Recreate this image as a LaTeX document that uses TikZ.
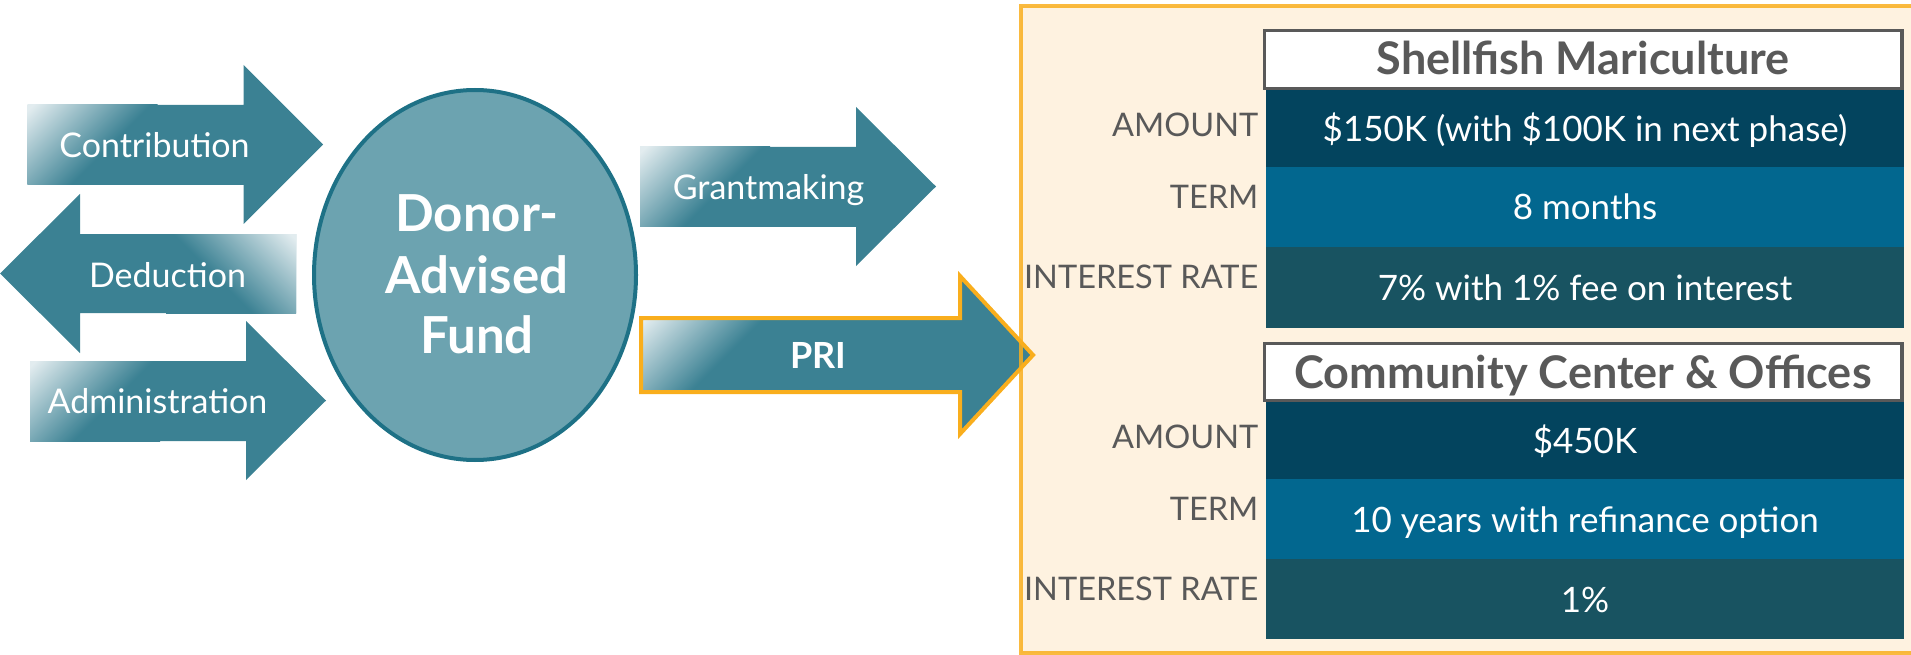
\documentclass[tikz,border=0pt]{standalone}
\usepackage{fontspec}
\setmainfont{Lato}
\usetikzlibrary{shapes.geometric}
\definecolor{arrowc}{HTML}{3B8193}
\definecolor{glow}{HTML}{E2ECEF}
\definecolor{ellfill}{HTML}{6CA3B0}
\definecolor{elldraw}{HTML}{1E7186}
\definecolor{orng}{HTML}{F9AE1D}
\definecolor{cream}{HTML}{FEF2E0}
\definecolor{rowA}{HTML}{03445E}
\definecolor{rowB}{HTML}{02678F}
\definecolor{rowC}{HTML}{185361}
\definecolor{hdgray}{HTML}{595959}
\pgfdeclarehorizontalshading{cornerfade}{100bp}{color(0bp)=(glow); color(16bp)=(glow); color(48bp)=(arrowc); color(100bp)=(arrowc)}
% right-pointing block arrow: x0, ytop, ybot, xhead, yheadtop, yheadbot, xtip
\newcommand\myrarrow[7]{%
  \fill[arrowc] (#1,#2) -- (#4,#2) -- (#4,#5) -- (#7,{(#5+#6)/2}) -- (#4,#6) -- (#4,#3) -- (#1,#3) -- cycle;
  \begin{scope}
    \clip (#1,#2) rectangle (#4,#3);
    \shade[shading=cornerfade, shading angle=-45] (#1,#2) rectangle ++(130,130);
  \end{scope}}
% left-pointing block arrow: x0(tail), ytop, ybot, xhead, yheadtop, yheadbot, xtip
\newcommand\mylarrow[7]{%
  \fill[arrowc] (#1,#2) -- (#4,#2) -- (#4,#5) -- (#7,{(#5+#6)/2}) -- (#4,#6) -- (#4,#3) -- (#1,#3) -- cycle;
  \begin{scope}
    \clip (#1,#2) rectangle (#4,#3);
    \shade[shading=cornerfade, shading angle=-135] (#1,#2) rectangle ++(-130,130);
  \end{scope}}
\tikzset{
  arrowtxt/.style={text=white, anchor=base, inner sep=0, font=\fontsize{34}{40}\selectfont},
  lbl/.style={text=hdgray, anchor=base east, inner sep=0, font=\fontsize{32.5}{36}\selectfont},
  cell/.style={text=white, anchor=base, inner sep=0, font=\fontsize{35}{40}\selectfont},
  hdr/.style={text=hdgray, anchor=base, inner sep=0, font=\bfseries\fontsize{45}{50}\selectfont},
  hdrbox/.style={draw=hdgray, fill=white, line width=3.5},
  daftxt/.style={text=white, anchor=base, inner sep=0, font=\bfseries\fontsize{51}{56}\selectfont}
}
\begin{document}
\begin{tikzpicture}[x=1pt,y=-1pt]
\useasboundingbox (0,0) rectangle (1911,655);
% arrows on the left
\myrarrow{27.5}{105}{185}{243.5}{65}{224}{323}
\mylarrow{296}{234}{313}{80}{194}{353}{0}
\myrarrow{30}{361}{441}{246}{321}{480}{326}
\node[arrowtxt] (contrib) at (154.5,158) {Contribution};
\node[arrowtxt] (deduct) at (167.5,287) {Deduction};
\node[arrowtxt] (admin) at (157.5,413) {Administration};
% ellipse
\node[ellipse, draw=elldraw, fill=ellfill, line width=4, minimum width=322, minimum height=370, inner sep=0] (daf) at (475,275) {};
\node[daftxt] (daf1) at (477,232) {Donor-};
\node[daftxt] (daf2) at (477,293) {Advised};
\node[daftxt] (daf3) at (477,353) {Fund};
% orange panel
\fill[cream] (1021,6.5) rectangle (1920,653);
% right arrows
\myrarrow{640}{147}{227}{856}{107}{266}{936}
\node[arrowtxt] (grant) at (768.5,200) {Grantmaking};
\myrarrow{641}{318}{392}{960}{276}{434}{1033}
\draw[orng, line width=4, line join=miter] (641,318) -- (960,318) -- (960,276) -- (1033,355) -- (960,434) -- (960,392) -- (641,392) -- cycle;
\node[arrowtxt, font=\bfseries\fontsize{36}{40}\selectfont] (pri) at (818.5,368) {PRI};
\draw[orng, line width=4, draw opacity=0.85] (1021,6.5) rectangle (1920,653);
% table 1
\draw[hdrbox] (1264.5,30.5) rectangle (1902,88.5);
\node[hdr] (h1) at (1583,75) {Shellfish Mariculture};
\fill[rowA] (1266,90) rectangle (1903.5,167);
\fill[rowB] (1266,167) rectangle (1903.5,247);
\fill[rowC] (1266,247) rectangle (1903.5,328);
\node[lbl] (l1a) at (1258.5,137) {AMOUNT};
\node[lbl] (l1b) at (1258.5,208) {TERM};
\node[lbl] (l1c) at (1258.5,288) {INTEREST RATE};
\node[cell] (c1a) at (1585,142) {\$150K (with \$100K in next phase)};
\node[cell] (c1b) at (1585,220) {8 months};
\node[cell] (c1c) at (1585,300) {7\% with 1\% fee on interest};
% table 2
\draw[hdrbox] (1264.5,343.5) rectangle (1902,400.5);
\node[hdr] (h2) at (1583,388) {Community Center \& Offices};
\fill[rowA] (1266,402) rectangle (1903.5,479);
\fill[rowB] (1266,479) rectangle (1903.5,559);
\fill[rowC] (1266,559) rectangle (1903.5,639);
\node[lbl] (l2a) at (1258.5,448) {AMOUNT};
\node[lbl] (l2b) at (1258.5,520) {TERM};
\node[lbl] (l2c) at (1258.5,600) {INTEREST RATE};
\node[cell] (c2a) at (1585,453) {\$450K};
\node[cell] (c2b) at (1585,532) {10 years with refinance option};
\node[cell] (c2c) at (1585,612) {1\%};
\end{tikzpicture}
\end{document}
